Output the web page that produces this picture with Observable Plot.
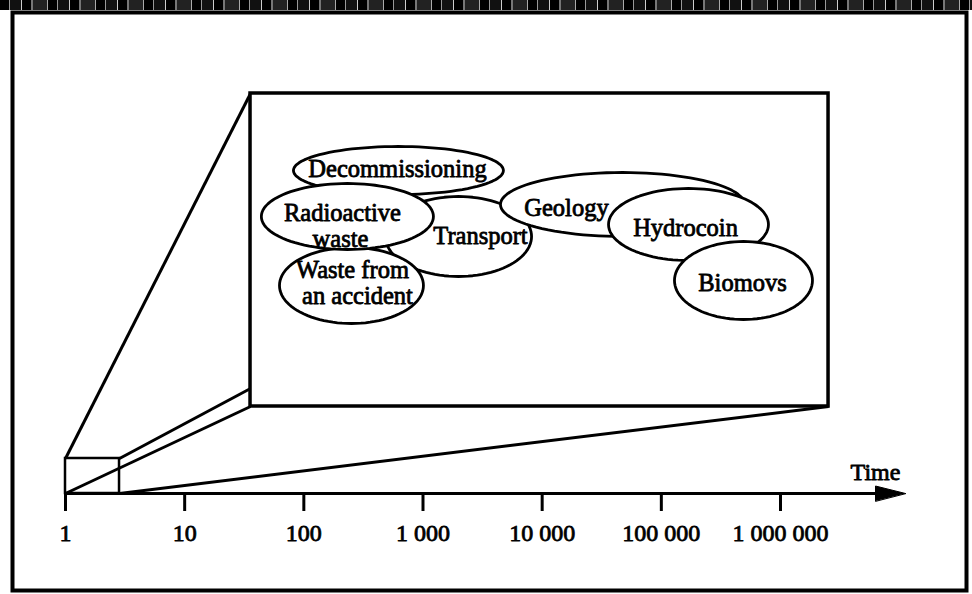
<!DOCTYPE html>
<html>
<head>
<meta charset="utf-8">
<script src="https://cdn.jsdelivr.net/npm/d3@7"></script>
<script src="https://cdn.jsdelivr.net/npm/@observablehq/plot@0.6"></script>
<style>
  html, body { margin: 0; padding: 0; background: white; }
  #wrap { position: relative; width: 972px; height: 594px; overflow: hidden; }
  #noise { position: absolute; left: 0; top: 0; width: 972px; height: 10px;
    background:
      repeating-linear-gradient(90deg, #000 0 9px, #999 9px 10px, #111 10px 21px, #ccc 21px 22px, #000 22px 31px, #777 31px 33px, #222 33px 47px, #aaa 47px 48px),
      #111; }
</style>
</head>
<body>
<div id="wrap"><div id="noise"></div><div id="chart"></div></div>
<script>
// ---- data ----
const tickValues = [1, 10, 100, 1000, 10000, 100000, 1000000];
const tickLabels = ["1", "10", "100", "1 000", "10 000", "100 000", "1 000 000"];
const axisTitle = "Time";
const axisEnd = 1.12e7;       // arrow tip (time units)
const arrowBase = 6.27e6;     // arrow head base (time units)

// small (real-scale) box and enlarged box, in time units / diagram height units
const smallBoxT = [1, 2.84];
const smallBoxY = [0, 35];
const bigBoxT = [35.7, 2.53e6];
const bigBoxY = [87, 400];

// ellipses (drawn in this order: later ones on top)
const ellipseNames = ["Transport", "Geology", "Waste from an accident", "Decommissioning", "Radioactive waste", "Hydrocoin", "Biomovs"];
const ellipseCenterT = [1986, 47200, 251, 622, 232, 169000, 489000];
const ellipseCenterY = [257, 289, 208, 323, 277, 269, 213];
const ellipseHalfDecades = [0.613, 1.024, 0.604, 0.881, 0.722, 0.671, 0.579];
const ellipseHalfY = [40, 32, 38, 24, 33, 36, 39];

// label lines inside ellipses
const labelLines = ["Decommissioning", "Radioactive", "waste", "Transport", "Waste from", "an accident", "Geology", "Hydrocoin", "Biomovs"];
const labelT = [611, 211, 203, 3036, 256, 282, 16000, 159600, 480000];
const labelY = [317, 273, 247, 250, 216, 190, 278, 258, 203];

// ---- derived tables ----
const ellipsePts = [];
ellipseNames.forEach((name, i) => {
  const lc = Math.log10(ellipseCenterT[i]);
  for (let k = 0; k < 96; k++) {
    const th = (2 * Math.PI * k) / 96;
    ellipsePts.push({
      name,
      t: Math.pow(10, lc + ellipseHalfDecades[i] * Math.cos(th)),
      y: ellipseCenterY[i] + ellipseHalfY[i] * Math.sin(th)
    });
  }
});
const labels = labelLines.map((s, i) => ({s, t: labelT[i], y: labelY[i]}));
const ticks = tickValues.map((v, i) => ({v, label: tickLabels[i]}));
const connectors = [
  {t1: smallBoxT[0], y1: smallBoxY[1], t2: bigBoxT[0], y2: bigBoxY[1]},
  {t1: smallBoxT[1], y1: smallBoxY[1], t2: bigBoxT[0], y2: 105},
  {t1: smallBoxT[0], y1: smallBoxY[0], t2: bigBoxT[0], y2: bigBoxY[0]},
  {t1: smallBoxT[1], y1: smallBoxY[0], t2: bigBoxT[1], y2: bigBoxY[0]}
];
const head = [
  {t: axisEnd, y: 0}, {t: arrowBase, y: 7.5}, {t: arrowBase, y: -7.5}
];

const font = "'Liberation Serif', 'Times New Roman', serif";

const chart = Plot.plot({
  width: 972,
  height: 594,
  marginLeft: 12,
  marginRight: 6,
  marginTop: 12,
  marginBottom: 4,
  style: {background: "transparent"},
  x: {type: "log", domain: [1, 1e6], range: [65, 780], axis: null},
  y: {type: "linear", domain: [0, 400], range: [493, 93], axis: null},
  marks: [
    Plot.frame({stroke: "black", strokeWidth: 4}),
    // connectors between the small box and the enlarged view
    Plot.link(connectors, {x1: "t1", y1: "y1", x2: "t2", y2: "y2", stroke: "black", strokeWidth: 3}),
    Plot.rect([{}], {x1: () => smallBoxT[0], x2: () => smallBoxT[1], y1: () => smallBoxY[0], y2: () => smallBoxY[1], fill: "none", stroke: "black", strokeWidth: 2.5}),
    Plot.rect([{}], {x1: () => bigBoxT[0], x2: () => bigBoxT[1], y1: () => bigBoxY[0], y2: () => bigBoxY[1], fill: "white", stroke: "black", strokeWidth: 3.5}),
    // time axis
    Plot.link([{}], {x1: () => 1, x2: () => arrowBase, y1: () => 0, y2: () => 0, stroke: "black", strokeWidth: 3}),
    Plot.line(head, {x: "t", y: "y", curve: "linear-closed", fill: "black", stroke: "black", strokeWidth: 1}),
    Plot.ruleX(ticks, {x: "v", y1: 0, y2: -18, stroke: "black", strokeWidth: 3}),
    Plot.text(ticks, {x: "v", y: -47, text: "label", lineAnchor: "bottom", fontSize: 24, fontFamily: font, fill: "black", stroke: "black", strokeWidth: 0.8}),
    Plot.text([axisTitle], {x: () => 6.27e6, y: () => 14, text: d => d, lineAnchor: "bottom", fontSize: 24, fontFamily: font, fill: "black", stroke: "black", strokeWidth: 0.8}),
    // ellipses
    Plot.line(ellipsePts, {x: "t", y: "y", z: "name", curve: "linear-closed", fill: "white", stroke: "black", strokeWidth: 2.8}),
    Plot.text(labels, {x: "t", y: "y", text: "s", lineAnchor: "bottom", fontSize: 24.5, fontFamily: font, fill: "black", stroke: "black", strokeWidth: 0.8})
  ]
});
document.getElementById("chart").appendChild(chart);
</script>
</body>
</html>
